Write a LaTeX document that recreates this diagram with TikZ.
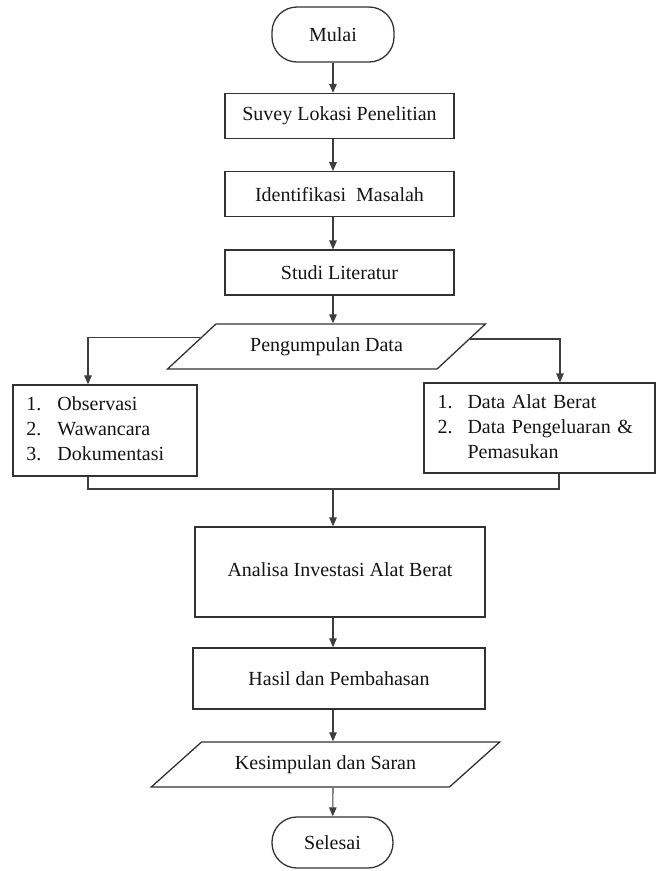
\documentclass[tikz,border=0pt]{standalone}
\usepackage{fontspec}
\setmainfont{Liberation Serif}
\usepackage{tikz}
\usetikzlibrary{
  arrows.meta,
  calc,
  positioning,
  shapes.geometric
}
\definecolor{lineink}{RGB}{50,50,50}
\definecolor{arrowink}{RGB}{62,62,62}
\definecolor{textink}{RGB}{20,20,20}
\newcommand{\flowfont}{\fontsize{20}{25}\selectfont}
\tikzset{
  terminal/.style={draw=lineink,line width=1.3pt,rounded corners=25pt,
    minimum width=122pt,font=\flowfont,text=textink},
  process/.style={draw=lineink,line width=1.3pt,minimum height=45pt,
    font=\flowfont,text=textink},
  io/.style={trapezium,trapezium stretches=true,draw=lineink,line width=1.3pt,
    minimum height=45pt,font=\flowfont,text=textink},
  listbox/.style={draw=lineink,line width=1.3pt,align=left,inner xsep=13.5pt,
    font=\flowfont,text=textink},
  flow/.style={-{Triangle[length=9pt,width=7.5pt]},line width=1.1pt,draw=arrowink},
  joinline/.style={line width=1.3pt,draw=arrowink}
}

\begin{document}
\begin{tikzpicture}[x=1pt,y=-1pt]
  \useasboundingbox (0,0) rectangle (657,871);
  % main column
  \node[terminal,minimum height=55pt] (mulai) at (333,34.5) {Mulai};
  \node[process,minimum width=229pt] (suvey) at (339.5,116) {Suvey Lokasi Penelitian};
  \node[process,minimum width=229pt,below=32pt of suvey] (ident) {Identifikasi~~Masalah};
  \node[process,minimum width=229pt,below=32pt of ident] (studi) {Studi Literatur};
  \node[io,minimum width=319pt,trapezium left angle=35.5,trapezium right angle=144.5]
    (peng) at (326.5,346.5) {Pengumpulan Data};
  % data sources
  \node[listbox,text width=157pt,minimum height=91pt] (obs) at (105,430.5) {%
    \begin{tabular}{@{}p{31pt}@{}l@{}}
      1. & Observasi\\
      2. & Wawancara\\
      3. & Dokumentasi
    \end{tabular}};
  \node[listbox,text width=204pt,minimum height=90pt] (dat) at (539.5,428) {%
    \begin{tabular}{@{}p{30pt}@{}l@{}}
      1. & Data Alat Berat\\
      2. & Data Pengeluaran \&\\
         & Pemasukan
    \end{tabular}};
  \coordinate (merge) at (333,489);
  % lower part
  \node[process,minimum width=290pt,minimum height=90pt] (analisa) at (340,572)
    {\raisebox{5pt}{Analisa Investasi Alat Berat}};
  \node[process,minimum width=292pt,minimum height=61pt] (hasil) at (339,678.5)
    {Hasil dan Pembahasan};
  \node[io,minimum width=349pt,trapezium left angle=33.1,trapezium right angle=146.9]
    (kes) at (325.5,764.5) {Kesimpulan dan Saran};
  \node[terminal,minimum width=121pt,minimum height=51pt] (selesai) at (332.5,842.5) {Selesai};

  \draw[flow] (mulai) -- (mulai |- suvey.north);
  \draw[flow] (suvey.south -| mulai) -- (ident.north -| mulai);
  \draw[flow] (ident.south -| mulai) -- (studi.north -| mulai);
  \draw[flow] (studi.south -| mulai) -- (peng.north -| mulai);
  \draw[flow] (peng.176) -| ([xshift=-17pt]obs.north);
  \draw[flow] (peng.3) -| ([xshift=20.5pt]dat.north);
  \draw[joinline] ([xshift=-17pt]obs.south) |- (merge) -| ([xshift=19.5pt]dat.south);
  \draw[flow] (merge) -- (analisa.north -| merge);
  \draw[flow] (analisa.south -| mulai) -- (hasil.north -| mulai);
  \draw[flow] (hasil.south -| mulai) -- (kes.north -| mulai);
  \draw[flow] (kes.south -| mulai) -- (selesai);
\end{tikzpicture}
\end{document}
